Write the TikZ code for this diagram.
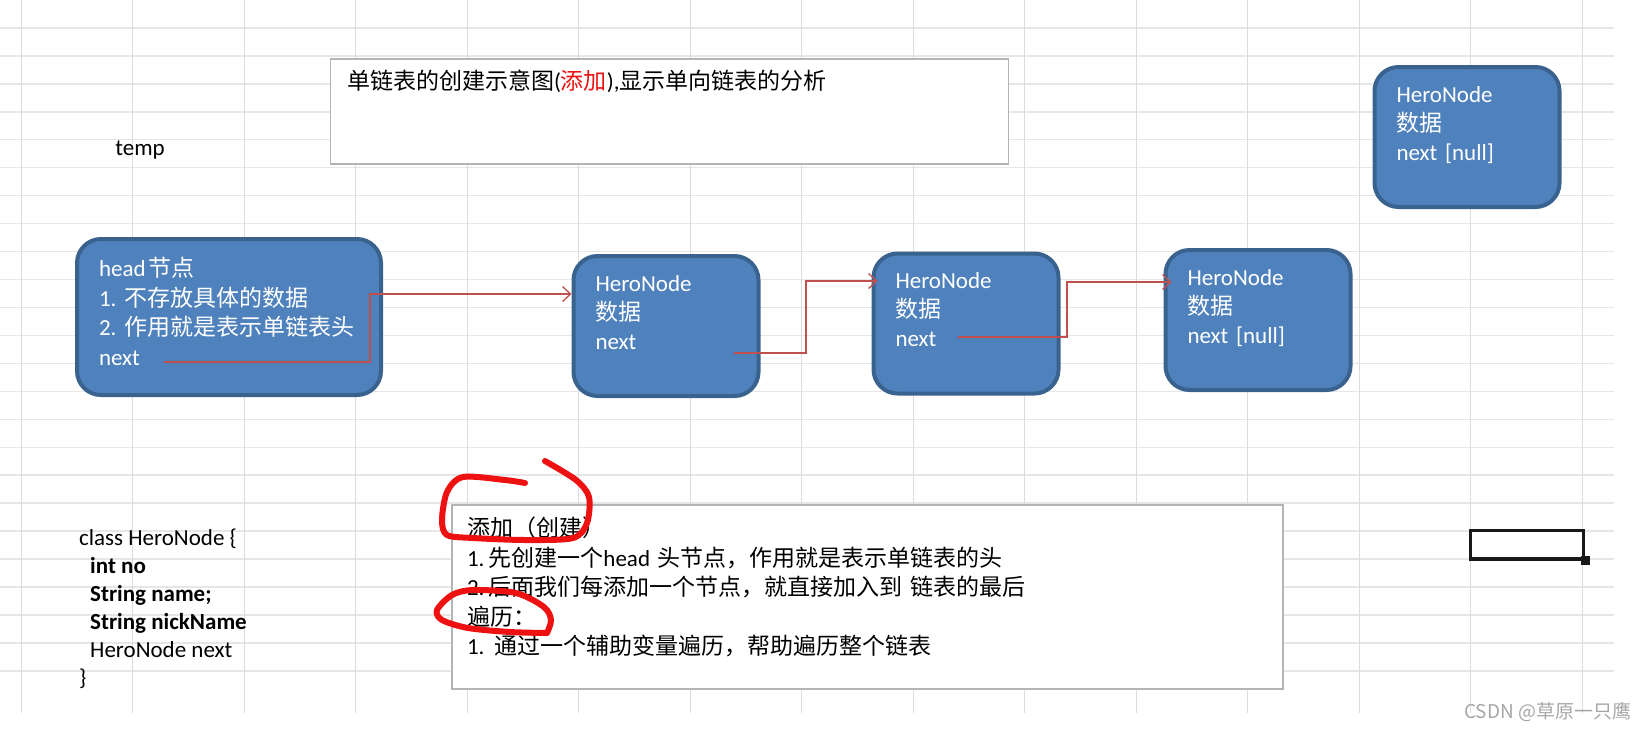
\documentclass[tikz,border=0pt]{standalone}
\usepackage{fontspec}
\usetikzlibrary{arrows.meta, positioning}
\setmainfont{Carlito}
\newfontfamily\cjk{Noto Sans CJK SC}
\newcommand{\zh}[1]{{\cjk #1}}

\definecolor{gridh}{HTML}{E6E6E6}
\definecolor{gridv}{HTML}{DADCE0}
\definecolor{nodefill}{HTML}{4F81BD}
\definecolor{nodeline}{HTML}{3A628F}
\definecolor{linkred}{HTML}{C0504D}
\definecolor{boxline}{HTML}{B4B4B4}
\definecolor{markred}{HTML}{EE1111}

\tikzset{
    nodebox/.style={draw=nodeline, line width=4pt, fill=nodefill, rounded corners=24pt, text=white,
        inner xsep=22pt, inner ysep=0pt, align=left, font=\fontsize{23}{29.5}\selectfont},
    heronode/.style={nodebox, minimum width=185pt, minimum height=140pt, text width=141pt,
        font=\fontsize{23}{29}\selectfont},
    notebox/.style={draw=boxline, line width=1.2pt, fill=white, inner ysep=0pt, align=left,
        font=\fontsize{23}{29.5}\selectfont},
    link/.style={draw=linkred, line width=1.3pt, -{Straight Barb[length=8pt,width=15pt]}},
    scribble/.style={draw=markred, line width=6pt, line cap=round, line join=round},
}

\begin{document}
\frenchspacing
\begin{tikzpicture}[x=1pt, y=-1pt]
    \useasboundingbox (0,0) rectangle (1651,729);

    % Sheet grid
    \foreach \row in {1,...,24}
        \draw[gridh, line width=1.4pt] (0,27.95*\row) -- (1614,27.95*\row);
    \foreach \col in {0,...,14}
        \draw[gridv, line width=1pt] (21+111.5*\col,0) -- (21+111.5*\col,713);

    % Linked list boxes
    \node[nodebox, minimum width=304pt, minimum height=156pt, text width=260pt] (head) at (229,317)
        {head\hspace{3pt}\zh{节点}\\1. \zh{不存放具体的数据}\\2. \zh{作用就是表示单链表头}\\next\\[-18pt]~};
    \node[heronode] (node1) at (666,326) {HeroNode\\\zh{数据}\\next\\[-2pt]~};
    \node[heronode] (node2) at (966,323.5) {HeroNode\\\zh{数据}\\next\\[-2pt]~};
    \node[heronode] (node3) at (1258,320) {HeroNode\\\zh{数据}\\next [null]\\[-2pt]~};
    \node[heronode] (node4) at (1467,137) {HeroNode\\\zh{数据}\\next [null]\\[-2pt]~};

    % Note boxes
    \node[notebox, minimum width=678pt, minimum height=105pt, text width=645pt, inner xsep=16.5pt] (title) at (669.5,111.5)
        {\zh{单链表的创建示意图}(\textcolor{markred}{\zh{添加}}),\zh{显示单向链表的分析}\\~\\[4pt]~};
    \node[notebox, minimum width=831pt, minimum height=184pt, text width=801pt, inner xsep=15pt] (add) at (867.5,597)
        {\zh{添加（创建）}\\1.\hspace{4pt}\zh{先创建一个}head \zh{头节点，作用就是表示单链表的头}\\
         2.\hspace{4pt}\zh{后面我们每添加一个节点，就直接加入到 链表的最后}\\\zh{遍历：}\\
         1.\hspace{10pt}\zh{通过一个辅助变量遍历，帮助遍历整个链表}\\[-7.5pt]~};

    % Plain texts
    \node[font=\fontsize{23}{28}\selectfont] (temp) at (140,150) {temp};
    \node[anchor=north west, inner sep=0pt, align=left, font=\fontsize{23}{27.95}\selectfont] (hero) at (79,529)
        {class HeroNode \{\\
         \hspace*{11pt}\textbf{int no}\\
         \hspace*{11pt}\textbf{String name;}\\
         \hspace*{11pt}\textbf{String nickName}\\
         \hspace*{11pt}HeroNode next\\
         \}};

    % Arrows
    \coordinate (headnext) at (164,362);
    \coordinate (node1next) at (734,353);
    \coordinate (node2next) at (958,337);
    \draw[link] (headnext) -- ++(206,0) |- ([yshift=32pt]node1.west);
    \draw[link] (node1next) -- ++(72,0) |- ([xshift=6pt,yshift=42.5pt]node2.west);
    \draw[link] (node2next) -- ++(109,0) |- ([xshift=8pt,yshift=38pt]node3.west);

    % Red marks
    \draw[scribble] plot[smooth] coordinates {(525,483) (505,480) (463,477) (447,492) (442,520) (447,535) (473,538) (526,540) (573,538) (587,523) (589,497) (576,480) (545,461)};
    \draw[scribble] plot[smooth] coordinates {(547,633) (510,632) (468,628) (442,620) (437,610) (452,595) (473,590) (516,593) (544,607) (551,620) (547,633)};

    % Selected cell
    \node[draw=black!90, line width=3.5pt, minimum width=113pt, minimum height=28.5pt, inner sep=0pt] (cell) at (1527,544.5) {};
    \node[fill=black!90, minimum size=9pt, inner sep=0pt] (handle) at (cell.south east) {};

    % Watermark
    \node[anchor=west, inner sep=0pt, text=black!35, font=\cjk\fontsize{19}{22}\selectfont] (mark) at (1464,712) {CSDN @草原一只鹰};
\end{tikzpicture}
\end{document}
